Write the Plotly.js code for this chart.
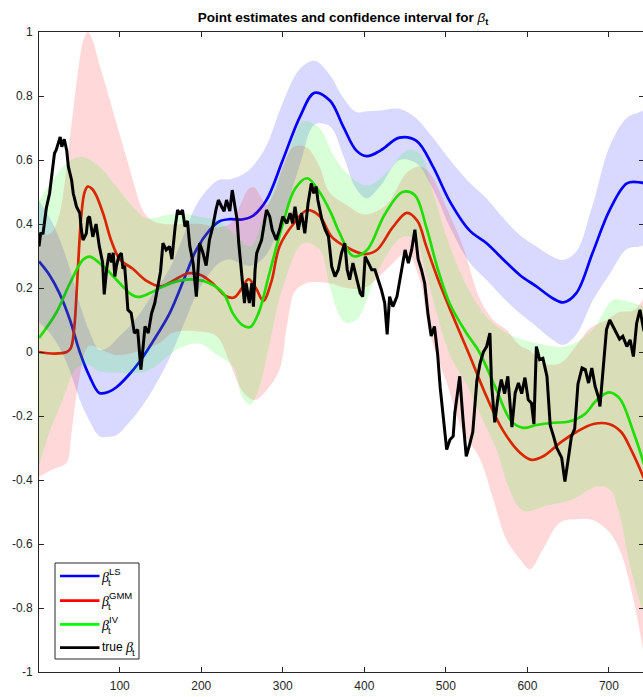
<!DOCTYPE html>
<html>
<head>
<meta charset="utf-8">
<script src="https://cdn.plot.ly/plotly-3.0.1.min.js"></script>
<style>
html,body{margin:0;padding:0;background:#fff;overflow:hidden;}
#chart{width:645px;height:697px;}
</style>
</head>
<body>
<div id="chart"></div>
<script>
// ---------------- DATA ----------------
// LS estimate and its confidence band
const tLS = [1,14,26,39,51,63,75,86,96,110,125,140,161,180,194,210,222,235,250,263,280,300,321,339,358,374,390,403,420,443,464,484,505,529,550,570,591,611,631,644,660,680,701,722,738,743];
const LS = [0.283,0.24,0.184,0.10,0.0,-0.076,-0.128,-0.125,-0.11,-0.075,-0.028,0.03,0.12,0.235,0.32,0.38,0.408,0.415,0.414,0.425,0.475,0.6,0.735,0.81,0.785,0.705,0.63,0.612,0.63,0.67,0.66,0.58,0.47,0.38,0.34,0.29,0.24,0.205,0.168,0.155,0.184,0.31,0.444,0.527,0.53,0.527];
const LS_hi = [0.473,0.42,0.354,0.26,0.15,0.064,0.007,0.015,0.04,0.075,0.122,0.18,0.26,0.375,0.46,0.515,0.538,0.54,0.554,0.58,0.645,0.78,0.885,0.91,0.865,0.795,0.75,0.752,0.755,0.76,0.73,0.67,0.60,0.53,0.48,0.42,0.365,0.33,0.298,0.288,0.314,0.46,0.644,0.732,0.75,0.756];
const LS_lo = [0.093,0.06,0.014,-0.06,-0.15,-0.216,-0.263,-0.265,-0.26,-0.225,-0.178,-0.12,-0.02,0.095,0.18,0.245,0.278,0.29,0.274,0.27,0.305,0.42,0.585,0.71,0.705,0.615,0.51,0.48,0.52,0.60,0.59,0.51,0.39,0.28,0.225,0.17,0.12,0.08,0.038,0.022,0.054,0.16,0.244,0.322,0.33,0.335];

// GMM estimate and its confidence band
const tGMM = [1,20,35,40,44,47,50,53,57,61,66,71,80,90,100,116,133,150,165,184,200,215,230,240,250,258,267,276,286,296,313,330,345,360,378,400,415,435,452,465,476,490,509,529,550,570,591,605,620,640,660,681,700,715,728,743];
const GMM = [0.0,-0.005,0.0,0.012,0.07,0.18,0.32,0.43,0.50,0.517,0.51,0.49,0.43,0.345,0.29,0.26,0.222,0.205,0.222,0.246,0.24,0.212,0.175,0.17,0.2,0.228,0.2,0.16,0.22,0.33,0.40,0.443,0.425,0.36,0.328,0.306,0.318,0.39,0.435,0.41,0.33,0.23,0.11,-0.01,-0.14,-0.245,-0.315,-0.337,-0.325,-0.284,-0.25,-0.225,-0.225,-0.25,-0.31,-0.395];
const tGMM_hi = [1,15,25,32,38,44,50,56,61,66,75,88,100,108,118,128,140,155,175,200,220,235,248,258,265,272,280,290,300,313,329,345,357,378,400,427,452,468,480,501,521,541,558,574,591,603,619,640,660,677,697,713,730,743];
const GMM_hi = [0.37,0.37,0.42,0.52,0.65,0.78,0.9,0.98,1.0,0.98,0.9,0.787,0.68,0.61,0.52,0.444,0.41,0.40,0.40,0.40,0.39,0.40,0.46,0.51,0.515,0.49,0.46,0.50,0.58,0.64,0.64,0.58,0.5,0.46,0.43,0.46,0.56,0.58,0.56,0.45,0.33,0.17,0.1,0.07,0.02,0.005,-0.035,-0.035,0.02,0.075,0.1,0.125,0.13,0.17];
const tGMM_lo = [1,15,25,35,41,46,51,56,63,84,96,120,150,165,198,219,235,250,265,280,296,305,315,329,357,378,400,427,452,468,480,501,521,541,558,574,591,603,619,640,660,677,697,713,730,743];
const GMM_lo = [-0.39,-0.37,-0.36,-0.346,-0.25,-0.15,-0.076,-0.01,0.02,0.0,-0.01,0.0,0.03,0.06,0.064,0.049,-0.034,-0.12,-0.15,-0.12,-0.055,0.08,0.19,0.215,0.215,0.2,0.2,0.257,0.309,0.225,0.059,-0.097,-0.25,-0.33,-0.46,-0.585,-0.648,-0.679,-0.617,-0.533,-0.523,-0.523,-0.554,-0.617,-0.773,-0.95];

// IV estimate and its confidence band
const tIV = [1,22,39,55,63,80,96,112,122,137,153,174,194,210,227,239,250,260,270,284,300,315,330,345,358,370,386,403,425,447,462,476,490,505,525,541,562,580,595,611,632,650,670,685,700,713,730,743];
const IV = [0.044,0.122,0.215,0.288,0.298,0.267,0.226,0.184,0.172,0.184,0.205,0.223,0.226,0.215,0.184,0.12,0.085,0.078,0.12,0.25,0.40,0.51,0.543,0.50,0.44,0.37,0.30,0.318,0.43,0.50,0.49,0.39,0.26,0.15,0.06,0.0,-0.118,-0.215,-0.237,-0.228,-0.221,-0.218,-0.195,-0.15,-0.126,-0.145,-0.25,-0.35];
const tIV_hi = [1,18,35,53,75,96,116,133,157,174,198,220,240,260,280,304,325,345,361,378,403,427,452,468,484,505,529,550,574,611,648,680,705,720,743];
const IV_hi = [0.475,0.537,0.59,0.61,0.58,0.517,0.454,0.418,0.428,0.434,0.423,0.41,0.37,0.33,0.45,0.60,0.72,0.70,0.62,0.56,0.52,0.56,0.63,0.62,0.50,0.33,0.19,0.11,0.06,0.028,0.018,0.07,0.163,0.16,0.142];
const tIV_lo = [1,14,30,47,60,75,96,133,174,198,220,239,250,260,270,284,300,325,345,358,370,378,390,398,420,447,462,476,490,505,525,541,562,578,595,624,656,685,701,713,726,743];
const IV_lo = [-0.356,-0.25,-0.15,-0.05,-0.04,-0.06,-0.065,-0.06,0.013,0.026,-0.01,-0.045,-0.14,-0.165,-0.12,0.03,0.2,0.34,0.32,0.2,0.11,0.09,0.1,0.13,0.27,0.36,0.35,0.24,0.11,-0.01,-0.1,-0.19,-0.305,-0.43,-0.497,-0.48,-0.46,-0.42,-0.43,-0.51,-0.67,-0.825];

// true beta_t
const tTrue = [1,3,6,8,10,14,18,20,22,24,27,29,32,35,37,41,43,47,51,53,55,59,61,63,67,71,75,79,81,84,87,90,92,94,96,99,102,104,106,108,110,114,118,122,126,128,131,135,139,143,147,150,153,157,161,164,168,171,174,177,180,183,186,190,194,198,202,206,210,214,218,221,225,228,231,235,238,241,244,246,249,251,253,255,259,262,264,266,268,271,274,278,280,284,287,292,296,300,305,309,312,315,319,323,327,331,335,338,341,343,348,352,356,360,364,368,372,376,379,382,386,390,395,398,401,405,409,413,417,421,425,428,431,435,440,446,450,454,458,462,466,470,474,478,482,486,490,493,497,501,505,509,511,515,517,521,525,529,533,538,542,546,550,554,556,560,564,568,572,576,581,585,589,593,597,601,605,608,611,615,619,624,628,632,636,642,646,650,654,658,662,667,671,675,679,683,687,689,693,697,701,705,709,713,717,722,726,730,734,738,743];
const TRUE = [0.33,0.37,0.371,0.413,0.45,0.496,0.57,0.621,0.631,0.645,0.672,0.641,0.665,0.63,0.579,0.537,0.496,0.454,0.434,0.381,0.35,0.37,0.418,0.423,0.36,0.40,0.33,0.28,0.18,0.26,0.309,0.28,0.31,0.236,0.27,0.30,0.309,0.26,0.27,0.205,0.132,0.122,0.059,0.07,-0.055,-0.003,0.08,0.059,0.12,0.153,0.205,0.25,0.34,0.319,0.33,0.29,0.392,0.444,0.43,0.444,0.392,0.41,0.33,0.278,0.173,0.34,0.31,0.27,0.35,0.39,0.444,0.475,0.454,0.44,0.475,0.44,0.506,0.465,0.413,0.34,0.257,0.215,0.153,0.215,0.153,0.215,0.142,0.257,0.309,0.33,0.35,0.413,0.444,0.423,0.382,0.35,0.382,0.423,0.402,0.434,0.402,0.454,0.382,0.434,0.371,0.465,0.527,0.496,0.517,0.475,0.413,0.382,0.361,0.267,0.236,0.257,0.309,0.34,0.257,0.226,0.278,0.236,0.184,0.173,0.298,0.278,0.257,0.257,0.226,0.194,0.153,0.055,0.173,0.142,0.173,0.257,0.319,0.278,0.319,0.382,0.29,0.257,0.215,0.12,0.05,0.08,-0.01,-0.11,-0.2,-0.305,-0.274,-0.263,-0.19,-0.11,-0.076,-0.21,-0.326,-0.29,-0.25,-0.09,-0.035,0.0,0.017,0.059,-0.1,-0.22,-0.14,-0.086,-0.13,-0.076,-0.235,-0.128,-0.097,-0.13,-0.08,-0.149,-0.16,-0.225,0.017,-0.024,-0.02,-0.076,-0.23,-0.263,-0.3,-0.33,-0.405,-0.336,-0.264,-0.24,-0.1,-0.05,-0.055,-0.097,-0.05,-0.107,-0.14,-0.17,-0.04,0.07,0.10,0.08,0.065,0.04,0.049,0.017,0.038,-0.014,0.09,0.132,0.065];

// axis ticks
const xTicks = [100,200,300,400,500,600,700];
const xTickText = ['100','200','300','400','500','600','700'];
const yTicks = [-1,-0.8,-0.6,-0.4,-0.2,0,0.2,0.4,0.6,0.8,1];
const yTickText = ['-1','-0.8','-0.6','-0.4','-0.2','0','0.2','0.4','0.6','0.8','1'];

// ---------------- FIGURE ----------------
const W = 645, H = 697, ML = 39, MR = 1, MT = 32, MB = 25;
const PW = W - ML - MR, PH = H - MT - MB;
const px2x = px => (px - ML) / PW;
const py2y = py => (H - MB - py) / PH;

function lineTrace(x, y, color, w) {
  return {x: x, y: y, mode: 'lines', type: 'scatter', hoverinfo: 'skip', showlegend: false,
          line: {color: color, width: w, shape: 'spline', smoothing: 1}};
}
function bandTraces(xh, yh, xl, yl, rgba) {
  return [
    {x: xh, y: yh, mode: 'lines', type: 'scatter', hoverinfo: 'skip', showlegend: false,
     line: {width: 0, color: 'rgba(0,0,0,0)', shape: 'spline', smoothing: 1}},
    {x: xl, y: yl, mode: 'lines', type: 'scatter', hoverinfo: 'skip', showlegend: false,
     fill: 'tonexty', fillcolor: rgba,
     line: {width: 0, color: 'rgba(0,0,0,0)', shape: 'spline', smoothing: 1}}
  ];
}

const data = [
  lineTrace(tLS, LS, '#0000ff', 2.7),
  lineTrace(tGMM, GMM, '#ff0000', 2.7),
  lineTrace(tIV, IV, '#00ff00', 2.7),
  ...bandTraces(tLS, LS_hi, tLS, LS_lo, 'rgba(0,0,255,0.15)'),
  ...bandTraces(tGMM_hi, GMM_hi, tGMM_lo, GMM_lo, 'rgba(255,0,0,0.15)'),
  ...bandTraces(tIV_hi, IV_hi, tIV_lo, IV_lo, 'rgba(0,255,0,0.15)'),
  {x: tTrue, y: TRUE, mode: 'lines', type: 'scatter', hoverinfo: 'skip', showlegend: false,
   line: {color: '#000000', width: 3, shape: 'linear'}}
];

// manual MATLAB-like legend
const legendItems = [
  {color: '#0000ff', sup: 'LS', py: 576},
  {color: '#ff0000', sup: 'GMM', py: 600.7},
  {color: '#00ff00', sup: 'IV', py: 624.3},
  {color: '#000000', sup: null, py: 647.7}
];
const shapes = [{
  type: 'rect', xref: 'paper', yref: 'paper',
  x0: px2x(55), x1: px2x(139), y0: py2y(659), y1: py2y(563),
  line: {color: '#262626', width: 1}, fillcolor: '#ffffff'
}];
const annotations = [];
const tf = {family: 'Liberation Sans, Arial, sans-serif', size: 12, color: '#000000'};
const bf = {family: 'Liberation Serif, DejaVu Serif, serif', size: 14, color: '#000000'};
const sf = {family: 'Liberation Sans, Arial, sans-serif', size: 9.5, color: '#000000'};
legendItems.forEach(it => {
  shapes.push({type: 'line', xref: 'paper', yref: 'paper',
    x0: px2x(60), x1: px2x(99.5), y0: py2y(it.py), y1: py2y(it.py),
    line: {color: it.color, width: 2.7}});
  if (it.sup) {
    annotations.push({xref: 'paper', yref: 'paper', x: px2x(100), y: py2y(it.py + 1), xanchor: 'left', yanchor: 'middle',
      text: '<i>β</i>', showarrow: false, font: bf, borderpad: 0});
    annotations.push({xref: 'paper', yref: 'paper', x: px2x(107.5), y: py2y(it.py - 5), xanchor: 'left', yanchor: 'middle',
      text: it.sup, showarrow: false, font: sf, borderpad: 0});
    annotations.push({xref: 'paper', yref: 'paper', x: px2x(107), y: py2y(it.py + 6), xanchor: 'left', yanchor: 'middle',
      text: 't', showarrow: false, font: sf, borderpad: 0});
  } else {
    annotations.push({xref: 'paper', yref: 'paper', x: px2x(101), y: py2y(it.py - 1), xanchor: 'left', yanchor: 'middle',
      text: 'true', showarrow: false, font: tf, borderpad: 0});
    annotations.push({xref: 'paper', yref: 'paper', x: px2x(124), y: py2y(it.py), xanchor: 'left', yanchor: 'middle',
      text: '<i>β</i>', showarrow: false, font: bf, borderpad: 0});
    annotations.push({xref: 'paper', yref: 'paper', x: px2x(131), y: py2y(it.py + 5), xanchor: 'left', yanchor: 'middle',
      text: 't', showarrow: false, font: sf, borderpad: 0});
  }
});

const axisCommon = {
  showgrid: false, zeroline: false, showline: true, linecolor: '#262626', linewidth: 1,
  mirror: 'ticks', ticks: 'inside', ticklen: 5, tickwidth: 1, tickcolor: '#262626',
  tickfont: {family: 'Liberation Sans, Arial, sans-serif', size: 12, color: '#262626'},
  tickmode: 'array', fixedrange: true
};

const layout = {
  width: W, height: H,
  margin: {l: ML, r: MR, t: MT, b: MB, pad: 0},
  paper_bgcolor: '#ffffff', plot_bgcolor: '#ffffff',
  showlegend: false,
  title: {
    text: '<b>Point estimates and confidence interval for </b><i>β</i><b><sub>t</sub></b>',
    font: {family: 'Liberation Sans, Arial, sans-serif', size: 13.5, color: '#000000'},
    x: px2x(343), xref: 'paper', xanchor: 'center',
    y: 1 - 17 / H, yref: 'container', yanchor: 'middle'
  },
  xaxis: Object.assign({}, axisCommon, {range: [1, 743], tickvals: xTicks, ticktext: xTickText, ticklabelstandoff: 3}),
  yaxis: Object.assign({}, axisCommon, {range: [-1, 1], tickvals: yTicks, ticktext: yTickText, ticklabelstandoff: 3}),
  shapes: shapes,
  annotations: annotations
};

Plotly.newPlot('chart', data, layout, {staticPlot: true, displayModeBar: false});
</script>
</body>
</html>
